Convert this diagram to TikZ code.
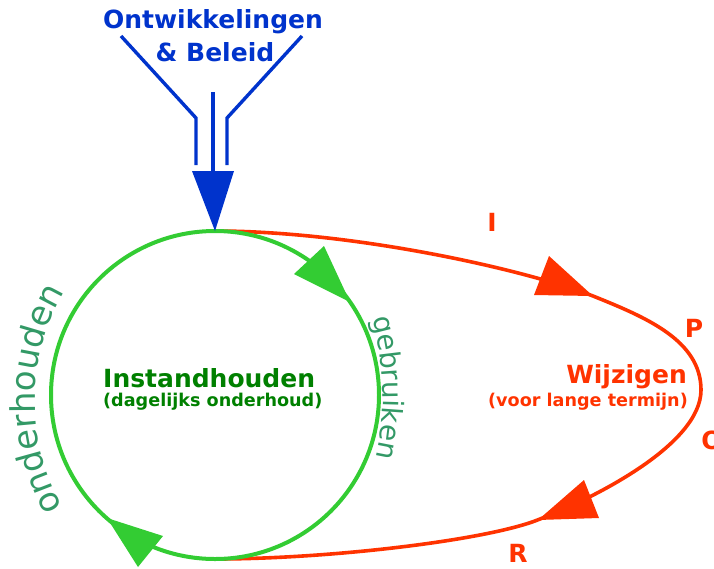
\documentclass[tikz,border=0pt]{standalone}
\usepackage{fontspec}
\setmainfont{DejaVu Sans}
\newfontfamily\dv{DejaVu Sans}
\usetikzlibrary{decorations.text}
\definecolor{blueC}{HTML}{0033CC}
\definecolor{greenC}{HTML}{33CC33}
\definecolor{redC}{HTML}{FF3300}
\definecolor{dkgreen}{HTML}{008000}
\definecolor{tealC}{HTML}{339966}
\tikzset{
  lbl/.style={inner sep=0pt, font=\bfseries},
  bluelbl/.style={lbl, text=blueC, font=\fontsize{25}{28}\selectfont\bfseries},
  redletter/.style={lbl, text=redC, font=\fontsize{25}{28}\selectfont\bfseries},
  funnel/.style={draw=blueC, line width=3.4pt},
}
\begin{document}
\begin{tikzpicture}[x=1pt,y=1pt]
\useasboundingbox (0,0) rectangle (714,-568);
\coordinate (C) at (215,-395);
\coordinate (top) at (215,-231);
\coordinate (bot) at (215,-559);
\coordinate (rt) at (701,-390);
\coordinate (r1) at (593,-296);
\coordinate (r2) at (540,-519);
% red loop
\draw[redC, line width=3.6pt] (top) .. controls (350,-231) and (520,-268) .. (r1)
  .. controls (645,-317) and (701,-340) .. (rt)
  .. controls (701,-445) and (592,-499) .. (r2)
  .. controls (490,-540) and (330,-559) .. (bot);
% green circle
\draw[greenC, line width=4pt] (C) circle[radius=164];
% arrow heads
\fill[greenC] (324,-246) -- (294,-274) -- (350,-302) -- cycle;
\fill[greenC] (107,-518) -- (163,-536) -- (138,-567) -- cycle;
\fill[redC] (549,-256) -- (534,-295) -- (593,-296) -- cycle;
\fill[redC] (584,-480) -- (599,-518) -- (538,-520) -- cycle;
% funnel
\coordinate (fl1) at (121,-36); \coordinate (fl2) at (196,-118); \coordinate (fl3) at (196,-165);
\coordinate (fr1) at (302,-36); \coordinate (fr2) at (227,-118); \coordinate (fr3) at (227,-165);
\coordinate (fc1) at (213,-92); \coordinate (fc2) at (213,-175);
\draw[funnel] (fl1) -- (fl2) -- (fl3);
\draw[funnel] (fr1) -- (fr2) -- (fr3);
\draw[funnel] (fc1) -- (fc2);
\fill[blueC] (192,-171) -- (234,-171) -- (top) -- cycle;
% texts
\node[bluelbl] (ont) at (213,-22) {Ontwikkelingen};
\node[bluelbl] (bel) at (215,-52) {\&~Beleid};
\node[lbl, anchor=west, text=dkgreen, font=\fontsize{25}{28}\selectfont\bfseries] (inst) at (103,-378) {Instandhouden};
\node[lbl, anchor=west, text=dkgreen, font=\fontsize{17.6}{20}\selectfont\bfseries] (dag) at (103,-402) {(dagelijks onderhoud)};
\node[lbl, anchor=east, text=redC, font=\fontsize{25}{28}\selectfont\bfseries] (wij) at (687,-377) {Wijzigen};
\node[lbl, anchor=east, text=redC, font=\fontsize{17.6}{20}\selectfont\bfseries] (voor) at (688,-402) {(voor lange termijn)};
\node[redletter] (lI) at (492,-222) {I};
\node[redletter] (lP) at (694,-328) {P};
\node[redletter] (lO) at (712,-440) {O};
\node[redletter] (lR) at (518,-553) {R};
% curved texts
\path[decorate, decoration={text along path, text align=center,
  text={|\dv\fontsize{34}{36}\selectfont\color{tealC}|onderhouden}}]
  (251,-401) ++(211:216) arc[start angle=211, end angle=148, radius=216];
\path[decorate, decoration={text along path, text align=center,
  text={|\dv\fontsize{28}{30}\selectfont\color{tealC}|gebruiken}}]
  (100,-395) ++(17:283) arc[start angle=17, end angle=-14, radius=283];
\end{tikzpicture}
\end{document}
